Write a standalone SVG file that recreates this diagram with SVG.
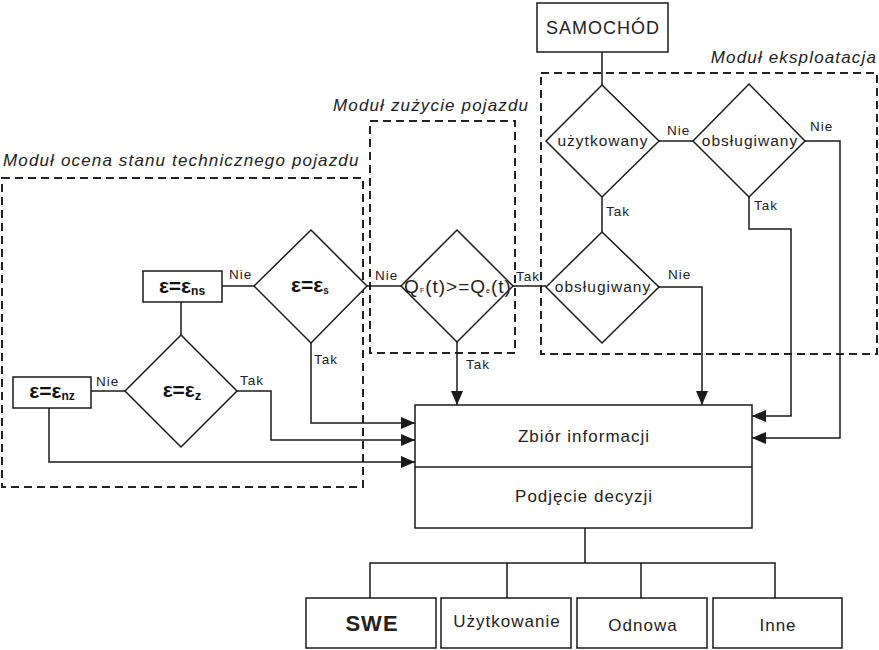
<svg xmlns="http://www.w3.org/2000/svg" width="879" height="650" viewBox="0 0 879 650">
<defs>
<marker id="ah" viewBox="0 0 14 12" refX="14" refY="6" markerWidth="14" markerHeight="12" markerUnits="userSpaceOnUse" orient="auto">
<path d="M0,0 L14,6 L0,12 Z" fill="#1a1a1a"/>
</marker>
<style>
.n{fill:#fff;stroke:#1a1a1a;stroke-width:1.5}
.c{fill:none;stroke:#1a1a1a;stroke-width:1.5}
.a{fill:none;stroke:#1a1a1a;stroke-width:1.5;marker-end:url(#ah)}
.m{fill:none;stroke:#222;stroke-width:2;stroke-dasharray:8,5}
.t{font-family:"Liberation Sans",Arial,sans-serif;fill:#222;text-anchor:middle;letter-spacing:1px}
.l{font-family:"Liberation Sans",Arial,sans-serif;fill:#222;font-size:13.5px;letter-spacing:1px}
.mt{font-family:"Liberation Sans",Arial,sans-serif;fill:#222;font-size:17px;font-style:italic;letter-spacing:1.15px}
.e{font-family:"Liberation Sans",Arial,sans-serif;fill:#111;font-weight:bold;text-anchor:middle;font-size:21px}
</style>
</defs>
<rect width="879" height="650" fill="#fff"/>

<g id="modules">
<rect class="m" x="2" y="178" width="361" height="309"/>
<text class="mt" x="3" y="166">Moduł ocena stanu technicznego pojazdu</text>
<rect class="m" x="370" y="121" width="145" height="232"/>
<text class="mt" x="333" y="111">Moduł zużycie pojazdu</text>
<rect class="m" x="541" y="73" width="336" height="281"/>
<text class="mt" x="877" y="63" text-anchor="end">Moduł eksploatacja</text>
</g>

<g id="connectors">
<path class="c" d="M602,52 V85"/>
<path class="c" d="M659,141 H693"/>
<path class="a" d="M805,141 H840 V438 H752"/>
<path class="a" d="M749,197 V229 H791 V416 H752"/>
<path class="c" d="M602,197 V232"/>
<path class="a" d="M659,287 H702 V405"/>
<path class="c" d="M513,286 H546"/>
<path class="a" d="M457,342 V405"/>
<path class="c" d="M367,286 H401"/>
<path class="a" d="M311,343 V423 H415"/>
<path class="c" d="M222,286 H254"/>
<path class="c" d="M181,302 V335"/>
<path class="c" d="M91,391 H125"/>
<path class="a" d="M237,391 H271 V440 H415"/>
<path class="a" d="M49,408 V462 H415"/>
<path class="c" d="M585,528 V563 M370,598 V563 H775 V598 M507,563 V598 M641,563 V598"/>
</g>

<g id="labels">
<text class="l" x="667" y="135">Nie</text>
<text class="l" x="810" y="131">Nie</text>
<text class="l" x="754" y="210">Tak</text>
<text class="l" x="606" y="216">Tak</text>
<text class="l" x="668" y="279">Nie</text>
<text class="l" x="516" y="281">Tak</text>
<text class="l" x="466" y="369">Tak</text>
<text class="l" x="375" y="280">Nie</text>
<text class="l" x="314" y="364">Tak</text>
<text class="l" x="229" y="279">Nie</text>
<text class="l" x="96" y="386">Nie</text>
<text class="l" x="240" y="385">Tak</text>
</g>

<g id="samochod">
<rect class="n" x="537" y="3" width="131" height="49"/>
<text class="t" x="603" y="34" font-size="18">SAMOCHÓD</text>
</g>
<g id="uzytkowany">
<path class="n" d="M602,85 L659,141 L602,197 L546,141 Z"/>
<text class="t" x="603" y="146" font-size="15.5">użytkowany</text>
</g>
<g id="obslugiwany1">
<path class="n" d="M749,84 L805,141 L749,197 L693,141 Z"/>
<text class="t" x="750" y="146" font-size="15.5">obsługiwany</text>
</g>
<g id="obslugiwany2">
<path class="n" d="M602,232 L659,287 L602,343 L546,287 Z"/>
<text class="t" x="603" y="292" font-size="15.5">obsługiwany</text>
</g>
<g id="q">
<path class="n" d="M457,230 L513,286 L457,342 L401,286 Z"/>
<text class="t" x="458" y="293" font-size="19">Q<tspan font-size="7">F</tspan>(t)&gt;=Q<tspan font-size="7">e</tspan>(t)</text>
</g>
<g id="es">
<path class="n" d="M311,230 L367,286 L311,343 L254,286 Z"/>
<text class="e" x="310" y="292">ε=ε<tspan font-size="10" dy="2">s</tspan></text>
</g>
<g id="ens">
<rect class="n" x="143" y="271" width="79" height="31"/>
<text class="e" x="182" y="293">ε=ε<tspan font-size="12" dy="2">ns</tspan></text>
</g>
<g id="ez">
<path class="n" d="M181,335 L237,391 L181,447 L125,391 Z"/>
<text class="e" x="182" y="397">ε=ε<tspan font-size="13" dy="3">z</tspan></text>
</g>
<g id="enz">
<rect class="n" x="13" y="377" width="78" height="31"/>
<text class="e" x="52" y="398">ε=ε<tspan font-size="12" dy="2">nz</tspan></text>
</g>
<g id="zbior">
<rect class="n" x="415" y="405" width="337" height="123"/>
<path class="c" d="M415,467 H752" stroke-width="2"/>
<text class="t" x="584" y="442" font-size="17">Zbiór informacji</text>
<text class="t" x="584" y="502" font-size="17">Podjęcie decyzji</text>
</g>
<g id="swe">
<rect class="n" x="306" y="598" width="130" height="50"/>
<text class="t" x="372" y="631" font-size="22" font-weight="bold">SWE</text>
</g>
<g id="uzytkowanie">
<rect class="n" x="441" y="598" width="130" height="50"/>
<text class="t" x="507" y="627" font-size="17">Użytkowanie</text>
</g>
<g id="odnowa">
<rect class="n" x="577" y="598" width="130" height="50"/>
<text class="t" x="643" y="631" font-size="17">Odnowa</text>
</g>
<g id="inne">
<rect class="n" x="713" y="598" width="129" height="50"/>
<text class="t" x="778" y="631" font-size="17">Inne</text>
</g>
</svg>
